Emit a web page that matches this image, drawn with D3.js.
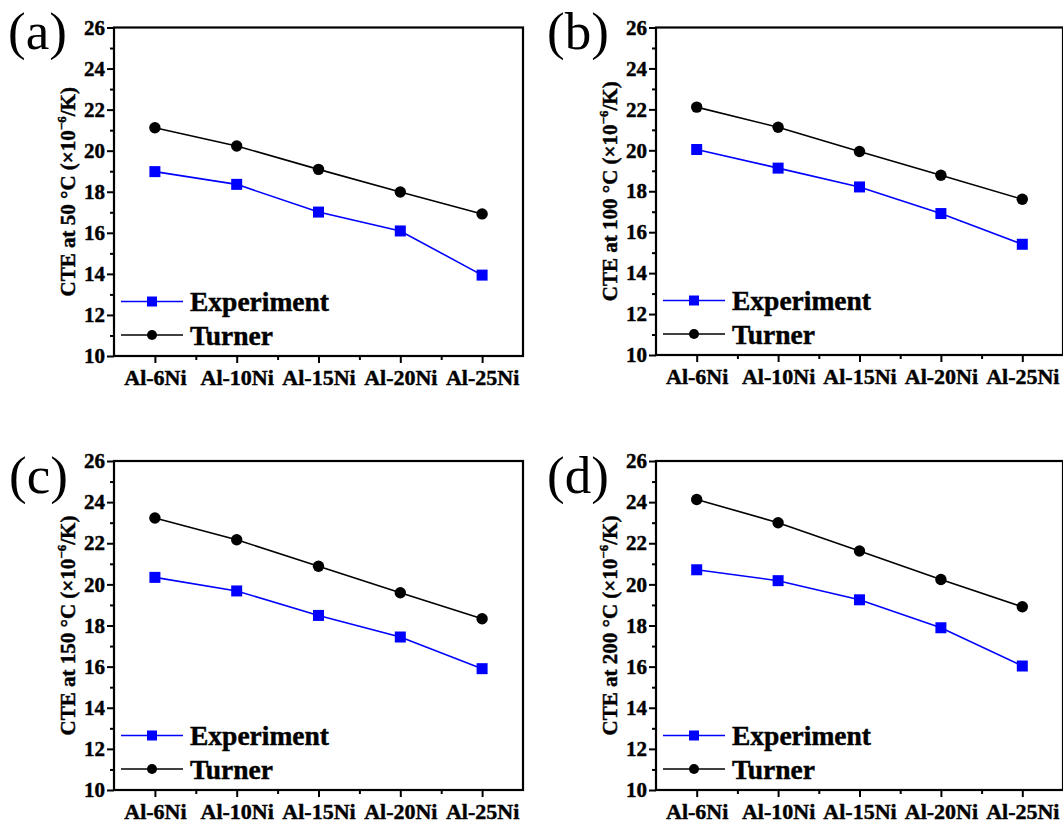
<!DOCTYPE html>
<html>
<head>
<meta charset="utf-8">
<script src="https://cdn.jsdelivr.net/npm/d3@7"></script>
<style>
  html, body { margin: 0; padding: 0; background: #fff; }
  svg { display: block; }
  text { font-family: "Liberation Serif", "Times New Roman", serif; }
  .heavy { stroke: #000; stroke-width: 0.45px; paint-order: stroke; }
</style>
</head>
<body>
<svg id="chart" width="1063" height="823"></svg>
<script>
// ---------------- data ----------------
const categories = ["Al-6Ni", "Al-10Ni", "Al-15Ni", "Al-20Ni", "Al-25Ni"];
const panelLabels = ["(a)", "(b)", "(c)", "(d)"];
const temperatures = ["50", "100", "150", "200"];
const seriesNames = ["Experiment", "Turner"];

const experimentA = [18.98, 18.36, 17.01, 16.09, 13.94];
const turnerA     = [21.12, 20.23, 19.09, 17.99, 16.92];
const experimentB = [20.04, 19.13, 18.21, 16.91, 15.41];
const turnerB     = [22.11, 21.13, 19.94, 18.78, 17.61];
const experimentC = [20.34, 19.68, 18.49, 17.44, 15.90];
const turnerC     = [23.23, 22.17, 20.88, 19.59, 18.33];
const experimentD = [20.71, 20.18, 19.25, 17.89, 16.03];
const turnerD     = [24.13, 23.00, 21.62, 20.24, 18.91];

const yMajorTicks = [10, 12, 14, 16, 18, 20, 22, 24, 26];
const yMinorTicks = [11, 13, 15, 17, 19, 21, 23, 25];
const yDomain = [10, 26];

// ---------------- layout ----------------
const panels = [
  { label: panelLabels[0], temp: temperatures[0], exp: experimentA, tur: turnerA,
    left: 114, right: 523, top: 27.5, bottom: 356, lx: 8, ly: 49 },
  { label: panelLabels[1], temp: temperatures[1], exp: experimentB, tur: turnerB,
    left: 656, right: 1063, top: 27.5, bottom: 355, lx: 547, ly: 49 },
  { label: panelLabels[2], temp: temperatures[2], exp: experimentC, tur: turnerC,
    left: 114, right: 523, top: 461, bottom: 790, lx: 9, ly: 493 },
  { label: panelLabels[3], temp: temperatures[3], exp: experimentD, tur: turnerD,
    left: 656, right: 1063, top: 461, bottom: 790, lx: 547, ly: 493 }
];

const BLUE = "#0000ff";
const BLACK = "#000000";
const svg = d3.select("#chart");

panels.forEach(p => {
  const g = svg.append("g");
  const x = d3.scalePoint().domain(categories).range([p.left, p.right]).padding(0.5);
  const xLin = d3.scaleLinear().domain([-0.5, 4.5]).range([p.left, p.right]);
  const y = d3.scaleLinear().domain(yDomain).range([p.bottom, p.top]);

  // panel label
  g.append("text").attr("x", p.lx).attr("y", p.ly)
    .attr("font-size", 53).attr("fill", BLACK).text(p.label);

  // frame
  g.append("rect").attr("x", p.left).attr("y", p.top)
    .attr("width", p.right - p.left).attr("height", p.bottom - p.top)
    .attr("fill", "none").attr("stroke", BLACK).attr("stroke-width", 2.2);

  // y axis major
  const yAx = g.append("g").attr("transform", `translate(${p.left},0)`)
    .call(d3.axisLeft(y).tickValues(yMajorTicks).tickSize(7).tickPadding(2).tickFormat(d3.format("d")));
  yAx.select(".domain").remove();
  yAx.selectAll(".tick line").attr("stroke", BLACK).attr("stroke-width", 2);
  yAx.selectAll(".tick text").attr("font-size", 21).attr("font-weight", "bold")
    .attr("font-family", "Liberation Serif").attr("fill", BLACK).attr("class", "heavy");
  // y axis minor
  const yMin = g.append("g").attr("transform", `translate(${p.left},0)`)
    .call(d3.axisLeft(y).tickValues(yMinorTicks).tickSize(4).tickFormat(""));
  yMin.select(".domain").remove();
  yMin.selectAll(".tick line").attr("stroke", BLACK).attr("stroke-width", 2);

  // x axis major
  const xAx = g.append("g").attr("transform", `translate(0,${p.bottom})`)
    .call(d3.axisBottom(x).tickSize(7).tickPadding(6));
  xAx.select(".domain").remove();
  xAx.selectAll(".tick line").attr("stroke", BLACK).attr("stroke-width", 2);
  xAx.selectAll(".tick text").attr("font-size", 22).attr("font-weight", "bold")
    .attr("font-family", "Liberation Serif").attr("fill", BLACK)
    .attr("dy", "0.71em").attr("class", "heavy");
  // x axis minor
  const xMin = g.append("g").attr("transform", `translate(0,${p.bottom})`)
    .call(d3.axisBottom(xLin).tickValues([0.5, 1.5, 2.5, 3.5]).tickSize(4).tickFormat(""));
  xMin.select(".domain").remove();
  xMin.selectAll(".tick line").attr("stroke", BLACK).attr("stroke-width", 2);

  // y title
  const tx = p.left - 39, ty = (p.top + p.bottom) / 2;
  const title = g.append("text")
    .attr("transform", `translate(${tx},${ty}) rotate(-90)`)
    .attr("text-anchor", "middle").attr("font-size", 21).attr("font-weight", "bold")
    .attr("fill", BLACK).attr("class", "heavy");
  title.append("tspan").text(`CTE at ${p.temp} °C (×10`);
  title.append("tspan").attr("font-size", 13).attr("dy", -9).text("−6");
  title.append("tspan").attr("dy", 9).text("/K)");

  // lines
  const line = d3.line().x((d, i) => x(categories[i])).y(d => y(d));
  g.append("path").datum(p.tur).attr("d", line)
    .attr("fill", "none").attr("stroke", BLACK).attr("stroke-width", 1.6);
  g.append("path").datum(p.exp).attr("d", line)
    .attr("fill", "none").attr("stroke", BLUE).attr("stroke-width", 1.6);

  // markers
  g.selectAll(".tur").data(p.tur).enter().append("circle")
    .attr("cx", (d, i) => x(categories[i])).attr("cy", d => y(d))
    .attr("r", 5.7).attr("fill", BLACK);
  const sq = 11;
  g.selectAll(".exp").data(p.exp).enter().append("rect")
    .attr("x", (d, i) => x(categories[i]) - sq / 2).attr("y", d => y(d) - sq / 2)
    .attr("width", sq).attr("height", sq).attr("fill", BLUE);

  // legend
  const legX0 = p.left + 7, legX1 = p.left + 69, legMid = p.left + 38;
  const legY = [p.bottom - 54.5, p.bottom - 21];
  // Experiment
  g.append("line").attr("x1", legX0).attr("x2", legX1).attr("y1", legY[0]).attr("y2", legY[0])
    .attr("stroke", BLUE).attr("stroke-width", 1.6);
  g.append("rect").attr("x", legMid - 5).attr("y", legY[0] - 5).attr("width", 10).attr("height", 10)
    .attr("fill", BLUE);
  g.append("text").attr("x", p.left + 76).attr("y", legY[0] + 9.5)
    .attr("font-size", 27.5).attr("font-weight", "bold").attr("fill", BLACK)
    .attr("class", "heavy").text(seriesNames[0]);
  // Turner
  g.append("line").attr("x1", legX0).attr("x2", legX1).attr("y1", legY[1]).attr("y2", legY[1])
    .attr("stroke", BLACK).attr("stroke-width", 1.6);
  g.append("circle").attr("cx", legMid).attr("cy", legY[1]).attr("r", 5).attr("fill", BLACK);
  g.append("text").attr("x", p.left + 76).attr("y", legY[1] + 10)
    .attr("font-size", 27.5).attr("font-weight", "bold").attr("fill", BLACK)
    .attr("class", "heavy").text(seriesNames[1]);
});
</script>
</body>
</html>
